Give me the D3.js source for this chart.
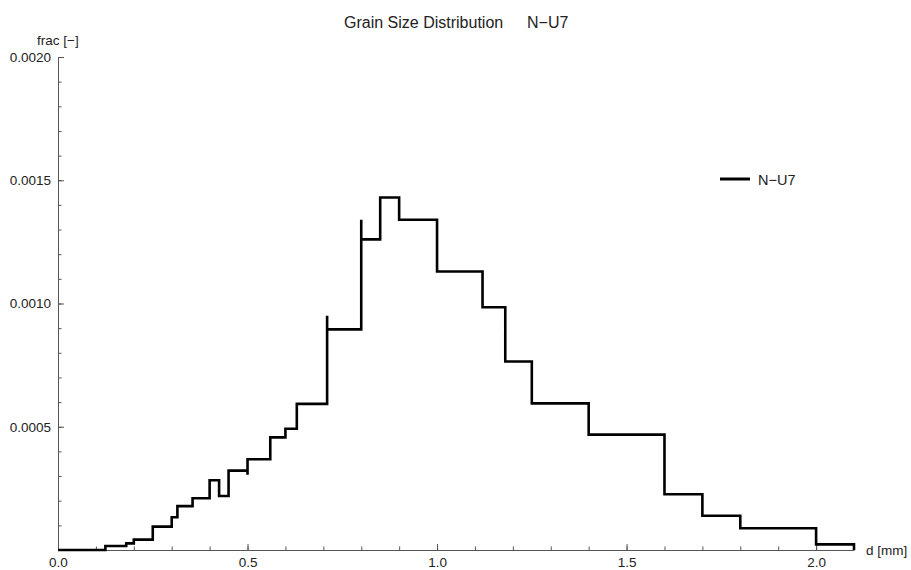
<!DOCTYPE html>
<html>
<head>
<meta charset="utf-8">
<script src="https://cdn.jsdelivr.net/npm/d3@7"></script>
<style>
  html, body { margin: 0; padding: 0; background: #fff; }
  svg { display: block; font-family: "Liberation Sans", Arial, sans-serif; }
</style>
</head>
<body>
<svg id="chart" width="911" height="570"></svg>
<script>
// Sieve bin left edges [mm]; a repeated edge makes a zero-width bin (a spike at that boundary)
const dEdges = [0, 0.125, 0.18, 0.2, 0.25, 0.3, 0.315, 0.355, 0.4, 0.425, 0.45, 0.5, 0.5,
  0.56, 0.6, 0.63, 0.71, 0.71, 0.8, 0.8, 0.85, 0.9, 1.0, 1.12, 1.18, 1.25, 1.4, 1.6, 1.7,
  1.8, 2.0, 2.1];
// Fraction per unit size in each bin, held until the next edge
const fracValues = [0, 0.000016, 0.000027, 0.000042, 0.000095, 0.000133, 0.000178, 0.00021,
  0.000283, 0.000219, 0.000322, 0.000305, 0.000368, 0.000457, 0.000492, 0.000593, 0.00095,
  0.000895, 0.00134, 0.00126, 0.00143, 0.00134, 0.00113, 0.000985, 0.000765, 0.000595,
  0.000468, 0.000226, 0.000139, 0.000088, 0.000023, 0];

const seriesName = "N\u2212U7";
const chartTitle = "Grain Size Distribution";
const xMajorTicks = [0, 0.5, 1.0, 1.5, 2.0];
const xMinorTicks = d3.range(0, 22).map(i => i / 10);
const yMajorTicks = [0.0005, 0.0010, 0.0015, 0.0020];
const yMinorTicks = d3.range(1, 21).map(i => i / 10000);
const xLabel = "d [mm]";
const yLabel = "frac [\u2212]";

const svg = d3.select("#chart");
const x = d3.scaleLinear().domain([0, 2.1]).range([58, 854]);
const y = d3.scaleLinear().domain([0, 0.002]).range([550, 57]);

const axisColor = "#555";
const textColor = "#222";
const labelSize = "13.5px";

// minor ticks (no labels)
svg.append("g")
  .attr("transform", `translate(0,${y(0)})`)
  .call(d3.axisBottom(x).tickValues(xMinorTicks).tickSize(-3.5).tickFormat(""))
  .call(g => g.select(".domain").remove());
svg.append("g")
  .attr("transform", `translate(${x(0)},0)`)
  .call(d3.axisLeft(y).tickValues(yMinorTicks).tickSize(-3.5).tickFormat(""))
  .call(g => g.select(".domain").remove());

// major ticks with labels
svg.append("g")
  .attr("transform", `translate(0,${y(0)})`)
  .call(d3.axisBottom(x).tickValues(xMajorTicks).tickSize(-6).tickSizeOuter(0)
    .tickPadding(7).tickFormat(d3.format(".1f")));
svg.append("g")
  .attr("transform", `translate(${x(0)},0)`)
  .call(d3.axisLeft(y).tickValues(yMajorTicks).tickSize(-6).tickSizeOuter(0)
    .tickPadding(7).tickFormat(d3.format(".4f")));

svg.selectAll(".tick line").attr("stroke", axisColor).attr("stroke-width", 1);
svg.selectAll(".domain").attr("stroke", axisColor).attr("stroke-width", 1);
svg.selectAll(".tick text").attr("fill", textColor).style("font-size", labelSize);

// axis labels
svg.append("text")
  .attr("x", x(0) - 21).attr("y", 45)
  .attr("fill", textColor).style("font-size", labelSize)
  .text(yLabel);
svg.append("text")
  .attr("x", 866).attr("y", 555)
  .attr("fill", textColor).style("font-size", labelSize)
  .text(xLabel);

// title
svg.append("text")
  .attr("x", 344).attr("y", 28)
  .attr("fill", textColor).style("font-size", "16px")
  .text(chartTitle);
svg.append("text")
  .attr("x", 527).attr("y", 28)
  .attr("fill", textColor).style("font-size", "16px")
  .text(seriesName);

// step series
const points = dEdges.map((d, i) => [d, fracValues[i]]);
const line = d3.line()
  .x(p => x(p[0]))
  .y(p => y(p[1]))
  .curve(d3.curveStepAfter);

svg.append("path")
  .datum(points)
  .attr("d", line)
  .attr("fill", "none")
  .attr("stroke", "#000")
  .attr("stroke-width", 2.6)
  .attr("stroke-linejoin", "miter");

// legend
const legend = svg.append("g").attr("transform", "translate(720,179)");
legend.append("line")
  .attr("x1", 0).attr("x2", 30).attr("y1", 0).attr("y2", 0)
  .attr("stroke", "#000").attr("stroke-width", 3);
legend.append("text")
  .attr("x", 38).attr("y", 5.5)
  .attr("fill", textColor).style("font-size", "14.5px")
  .text(seriesName);
</script>
</body>
</html>
